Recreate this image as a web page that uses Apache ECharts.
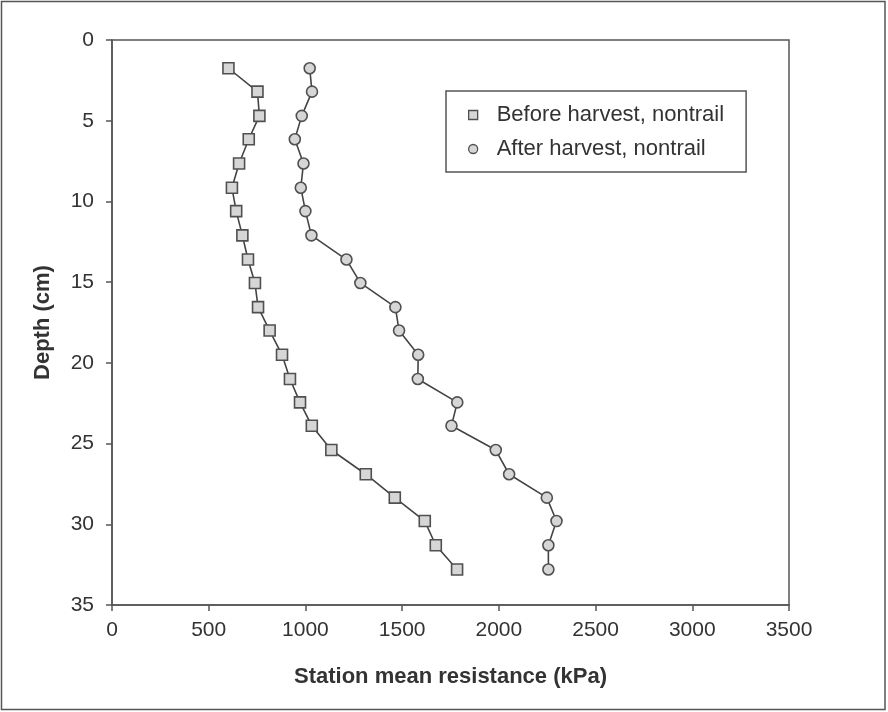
<!DOCTYPE html>
<html>
<head>
<meta charset="utf-8">
<script src="https://cdn.jsdelivr.net/npm/echarts@6/dist/echarts.min.js"></script>
<style>
html,body{margin:0;padding:0;background:#fff;}
#c{width:888px;height:712px;}
</style>
</head>
<body>
<div id="c"></div>
<script>
// Depth (cm) of each station reading
const depths = [1.75, 3.2, 4.7, 6.15, 7.65, 9.15, 10.6, 12.1, 13.6, 15.05, 16.55, 18.0, 19.5, 21.0, 22.45, 23.9, 25.4, 26.9, 28.35, 29.8, 31.3, 32.8];
// Station mean resistance (kPa)
const beforeHarvest = [602, 752, 762, 707, 657, 620, 642, 674, 703, 739, 755, 815, 879, 920, 972, 1033, 1134, 1312, 1462, 1617, 1674, 1784];
const afterHarvest = [1022, 1034, 981, 945, 990, 976, 1000, 1031, 1212, 1284, 1465, 1484, 1583, 1581, 1785, 1755, 1984, 2053, 2248, 2298, 2256, 2256];
const seriesNames = ['Before harvest, nontrail', 'After harvest, nontrail'];
const xTicks = [0, 500, 1000, 1500, 2000, 2500, 3000, 3500];
const yTicks = [0, 5, 10, 15, 20, 25, 30, 35];

const toPairs = (xs) => xs.map((v, i) => [v, depths[i]]);
const font = 'Liberation Sans, Arial, sans-serif';
const markerStyle = {color: '#d6d6d6', borderColor: '#505050', borderWidth: 1.6};

const chart = echarts.init(document.getElementById('c'), null, {renderer: 'canvas'});
chart.setOption({
  animation: false,
  backgroundColor: '#fff',
  graphic: [{
    type: 'rect', shape: {x: 1.5, y: 1.5, width: 883.5, height: 708},
    style: {fill: 'none', stroke: '#555', lineWidth: 1.5}, silent: true
  }],
  grid: {left: 112, top: 40, width: 677, height: 565, show: true, borderColor: '#555', borderWidth: 1.5, backgroundColor: 'transparent'},
  legend: {
    left: 446, top: 91,
    orient: 'vertical',
    data: [{name: seriesNames[0], icon: 'rect'}, {name: seriesNames[1], icon: 'circle'}],
    itemWidth: 9, itemHeight: 9, itemGap: 12, itemTextGap: 5,
    padding: [13, 22, 12, 22],
    borderColor: '#555', borderWidth: 1.5,
    itemStyle: {color: '#d6d6d6', borderColor: '#505050', borderWidth: 1.3},
    textStyle: {fontFamily: font, fontSize: 22, color: '#333', padding: [0, 0, 0, 14]}
  },
  xAxis: {
    type: 'value', min: 0, max: 3500, interval: 500,
    position: 'bottom',
    name: 'Station mean resistance (kPa)', nameLocation: 'middle', nameGap: 61,
    nameTextStyle: {fontFamily: font, fontSize: 22, fontWeight: 'bold', color: '#333'},
    axisLine: {onZero: false, lineStyle: {color: '#555', width: 1.5}},
    axisTick: {length: 6, lineStyle: {color: '#555', width: 1.5}},
    axisLabel: {fontFamily: font, fontSize: 21, color: '#333', margin: 15,
      formatter: (v) => xTicks.includes(v) ? String(v) : ''},
    splitLine: {show: false}
  },
  yAxis: {
    type: 'value', min: 0, max: 35, interval: 5, inverse: true,
    name: 'Depth (cm)', nameLocation: 'middle', nameGap: 58, nameRotate: 90,
    nameTextStyle: {fontFamily: font, fontSize: 22, fontWeight: 'bold', color: '#333'},
    axisLine: {show: true, onZero: false, lineStyle: {color: '#555', width: 1.5}},
    axisTick: {show: true, length: 6, lineStyle: {color: '#555', width: 1.5}},
    axisLabel: {fontFamily: font, fontSize: 21, color: '#333', margin: 18,
      formatter: (v) => yTicks.includes(v) ? String(v) : ''},
    splitLine: {show: false}
  },
  series: [
    {
      name: seriesNames[0], type: 'line', data: toPairs(beforeHarvest),
      symbol: 'rect', symbolSize: 11, showAllSymbol: true,
      lineStyle: {color: '#444', width: 1.6},
      itemStyle: markerStyle
    },
    {
      name: seriesNames[1], type: 'line', data: toPairs(afterHarvest),
      symbol: 'circle', symbolSize: 11, showAllSymbol: true,
      lineStyle: {color: '#444', width: 1.6},
      itemStyle: markerStyle
    }
  ]
});
</script>
</body>
</html>
